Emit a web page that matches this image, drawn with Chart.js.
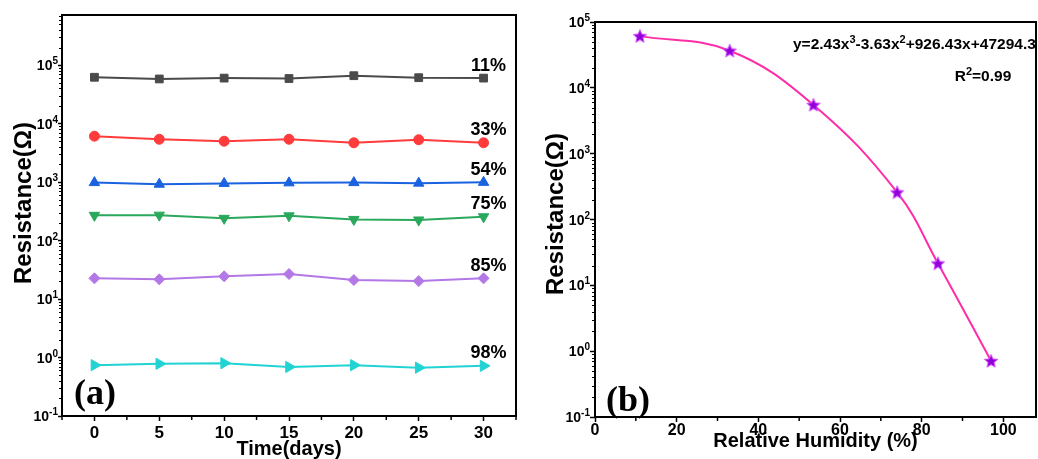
<!DOCTYPE html>
<html><head><meta charset="utf-8">
<script src="https://cdn.jsdelivr.net/npm/chart.js@4.4.1/dist/chart.umd.min.js"></script>
<style>
html,body{margin:0;padding:0;background:#fff;overflow:hidden}
#ca{position:absolute;left:0;top:0}
#cb{position:absolute;left:530px;top:0}
</style></head><body>
<canvas id="ca" width="530" height="459"></canvas>
<canvas id="cb" width="508" height="459"></canvas>
<script>
// ---------- data ----------
const days = [0, 5, 10, 15, 20, 25, 30];
const res11 = [6.2e4, 5.8e4, 6.0e4, 5.9e4, 6.6e4, 6.1e4, 6.0e4];
const res33 = [6.1e3, 5.4e3, 5.0e3, 5.4e3, 4.7e3, 5.3e3, 4.7e3];
const res54 = [980, 920, 950, 970, 980, 960, 990];
const res75 = [270, 272, 240, 265, 230, 225, 255];
const res85 = [22.6, 21.7, 24.5, 26.8, 21.1, 20.3, 22.6];
const res98 = [0.74, 0.78, 0.80, 0.69, 0.74, 0.67, 0.72];
const seriesLabels = ['11%', '33%', '54%', '75%', '85%', '98%'];
const rhValues = [11, 33, 53.5, 74, 84, 97];
const rhResistance = [6.1e4, 3.66e4, 5.5e3, 258, 21.5, 0.71];
const dayTicks = [0, 5, 10, 15, 20, 25, 30];
const rhTicks = [0, 20, 40, 60, 80, 100];
const decadeTicks = [0.1, 1, 10, 100, 1000, 10000, 100000];
const decadeExponents = ['-1', '0', '1', '2', '3', '4', '5'];
const decadeBase = '10';
const leftXTitle = 'Time(days)';
const rightXTitle = 'Relative Humidity (%)';
const yTitle = 'Resistance(\u03A9)';
const panelA = '(a)', panelB = '(b)';
// equation pieces: [text, isSuperscript]
const equationParts = [['y=2.43x', 0], ['3', 1], ['-3.63x', 0], ['2', 1], ['+926.43x+47294.3', 0]];
const r2Parts = [['R', 0], ['2', 1], ['=0.99', 0]];

// ---------- helpers ----------
const SANS = "'Liberation Sans', Arial, sans-serif";
const SERIF = "'Liberation Serif', 'Times New Roman', serif";
Chart.defaults.font.family = SANS;
Chart.defaults.color = '#000';

function drawRich(ctx, parts, x, y, align, baseSize, supSize, rise) {
  const fonts = [`bold ${baseSize}px ${SANS}`, `bold ${supSize}px ${SANS}`];
  let total = 0;
  const widths = parts.map(p => { ctx.font = fonts[p[1]]; const w = ctx.measureText(p[0]).width; total += w; return w; });
  let cx = align === 'right' ? x - total : align === 'center' ? x - total / 2 : x;
  ctx.textAlign = 'left';
  ctx.textBaseline = 'alphabetic';
  parts.forEach((p, i) => {
    ctx.font = fonts[p[1]];
    ctx.fillText(p[0], cx, p[1] ? y - rise : y);
    cx += widths[i];
  });
}

function starImage() {
  const c = document.createElement('canvas');
  c.width = 16; c.height = 16;
  const g = c.getContext('2d');
  g.beginPath();
  for (let i = 0; i < 10; i++) {
    const r = i % 2 === 0 ? 7 : 3.1;
    const a = -Math.PI / 2 + i * Math.PI / 5;
    const px = 8 + r * Math.cos(a), py = 8.5 + r * Math.sin(a);
    if (i === 0) g.moveTo(px, py); else g.lineTo(px, py);
  }
  g.closePath();
  g.fillStyle = '#9400d8';
  g.fill();
  g.lineWidth = 1;
  g.strokeStyle = '#d050ff';
  g.stroke();
  return c;
}

function minorLog(min, max) {
  const out = [];
  for (let e = Math.floor(Math.log10(min)); e <= Math.ceil(Math.log10(max)); e++) {
    for (let m = 2; m <= 9; m++) {
      const v = m * Math.pow(10, e);
      if (v > min && v < max) out.push(v);
    }
  }
  return out;
}

function framePlugin(opts) {
  return {
    id: 'frame' + opts.name,
    afterDraw(chart) {
      const ctx = chart.ctx, a = chart.chartArea;
      const xs = chart.scales.x, ys = chart.scales.y;
      ctx.save();
      ctx.strokeStyle = '#000';
      ctx.fillStyle = '#000';
      // minor ticks on y
      ctx.lineWidth = 1;
      minorLog(ys.min, ys.max).forEach(v => {
        const y = Math.round(ys.getPixelForValue(v)) + 0.5;
        ctx.beginPath(); ctx.moveTo(a.left, y); ctx.lineTo(a.left - 3, y); ctx.stroke();
      });
      // minor ticks on x
      ctx.lineWidth = 1.5;
      opts.minorX.forEach(v => {
        const x = xs.getPixelForValue(v);
        ctx.beginPath(); ctx.moveTo(x, a.bottom); ctx.lineTo(x, a.bottom + 4); ctx.stroke();
      });
      // frame
      ctx.lineWidth = 2;
      ctx.strokeRect(a.left, a.top, a.right - a.left, a.bottom - a.top);
      // y tick labels 10^n
      decadeTicks.forEach((v, i) => {
        const y = ys.getPixelForValue(v);
        drawRich(ctx, [[decadeBase, 0], [decadeExponents[i], 1]], a.left - opts.labelGap, y + 5, 'right', 14, 10, 6);
      });
      // y title
      ctx.save();
      ctx.translate(opts.yTitleX, opts.yTitleY);
      ctx.rotate(-Math.PI / 2);
      ctx.font = 'bold 24px ' + SANS;
      ctx.textAlign = 'center';
      ctx.textBaseline = 'middle';
      ctx.fillText(yTitle, 0, 0);
      ctx.restore();
      // panel letter
      ctx.font = 'bold 36px ' + SERIF;
      ctx.textAlign = 'left';
      ctx.textBaseline = 'alphabetic';
      ctx.fillText(opts.panel, opts.panelX, opts.panelY);
      if (opts.extra) opts.extra(chart, ctx);
      ctx.restore();
    }
  };
}

// ---------- left chart ----------
const leftSeries = [
  {data: res11, color: '#4a4a4a', style: 'rect', radius: 5.5, rot: 0},
  {data: res33, color: '#ff3b3b', style: 'circle', radius: 5, rot: 0},
  {data: res54, color: '#1a62e0', style: 'triangle', radius: 6, rot: 0},
  {data: res75, color: '#2aa85c', style: 'triangle', radius: 6, rot: 180},
  {data: res85, color: '#b377e6', style: 'rectRot', radius: 5.5, rot: 0},
  {data: res98, color: '#22d3d3', style: 'triangle', radius: 6.5, rot: 90}
];

new Chart(document.getElementById('ca'), {
  type: 'line',
  data: {
    datasets: leftSeries.map((s, i) => ({
      label: seriesLabels[i],
      data: days.map((d, j) => ({x: d, y: s.data[j]})),
      borderColor: s.color,
      backgroundColor: s.color,
      borderWidth: 2,
      pointStyle: s.style,
      pointRadius: s.radius,
      pointRotation: s.rot,
      pointBorderWidth: 1,
      tension: 0
    }))
  },
  options: {
    responsive: false,
    animation: false,
    devicePixelRatio: 1,
    layout: {autoPadding: false, padding: {top: 15, right: 14, left: 0, bottom: 0}},
    plugins: {legend: {display: false}, tooltip: {enabled: false}},
    scales: {
      x: {
        type: 'linear', min: -2.5, max: 32.5,
        afterBuildTicks: s => { s.ticks = dayTicks.map(v => ({value: v})); },
        afterFit: s => { s.height = 43; },
        ticks: {autoSkip: false, maxRotation: 0, padding: 2, color: '#000',
          font: {size: 17, weight: 'bold'}, callback: (v, i) => String(dayTicks[i])},
        grid: {drawOnChartArea: false, tickLength: 5, tickWidth: 1.5, tickColor: '#000'},
        border: {display: false},
        title: {display: true, text: leftXTitle, color: '#000',
          font: {size: 20, weight: 'bold', lineHeight: 1}, padding: {top: 0, bottom: 0}}
      },
      y: {
        type: 'logarithmic', min: 0.1, max: 7.2e5,
        afterBuildTicks: s => { s.ticks = decadeTicks.map(v => ({value: v, major: true})); },
        afterFit: s => { s.width = 62; },
        ticks: {display: false, autoSkip: false},
        grid: {drawOnChartArea: false, tickLength: 4, tickWidth: 1.5, tickColor: '#000'},
        border: {display: false}
      }
    }
  },
  plugins: [framePlugin({
    name: 'a', minorX: [-2.5, 2.5, 7.5, 12.5, 17.5, 22.5, 27.5, 32.5], labelGap: 4,
    yTitleX: 24, yTitleY: 203, panel: panelA, panelX: 74, panelY: 404,
    extra(chart, ctx) {
      const xs = chart.scales.x, ys = chart.scales.y;
      ctx.font = 'bold 18px ' + SANS;
      ctx.textAlign = 'center';
      ctx.textBaseline = 'middle';
      leftSeries.forEach((s, i) => {
        const n = s.data.length - 1;
        ctx.fillText(seriesLabels[i], xs.getPixelForValue(days[n]) + 5, ys.getPixelForValue(s.data[n]) - 12.5);
      });
    }
  })]
});

// ---------- right chart ----------
new Chart(document.getElementById('cb'), {
  type: 'line',
  data: {
    datasets: [{
      label: 'fit',
      data: rhValues.map((x, i) => ({x: x, y: rhResistance[i]})),
      borderColor: '#ff2ca8',
      borderWidth: 2,
      pointStyle: starImage(),
      pointRadius: 7,
      tension: 0.4
    }]
  },
  options: {
    responsive: false,
    animation: false,
    devicePixelRatio: 1,
    layout: {autoPadding: false, padding: {top: 22, right: 2, left: 0, bottom: 0}},
    plugins: {legend: {display: false}, tooltip: {enabled: false}},
    scales: {
      x: {
        type: 'linear', min: 0, max: 108,
        afterBuildTicks: s => { s.ticks = rhTicks.map(v => ({value: v})); },
        afterFit: s => { s.height = 42; },
        ticks: {autoSkip: false, maxRotation: 0, padding: -1, color: '#000',
          font: {size: 16, weight: 'bold'}, callback: (v, i) => String(rhTicks[i])},
        grid: {drawOnChartArea: false, tickLength: 5, tickWidth: 1.5, tickColor: '#000'},
        border: {display: false},
        title: {display: true, text: rightXTitle, color: '#000',
          font: {size: 20, weight: 'bold', lineHeight: 1}, padding: {top: 0, bottom: 8}}
      },
      y: {
        type: 'logarithmic', min: 0.1, max: 1e5,
        afterBuildTicks: s => { s.ticks = decadeTicks.map(v => ({value: v, major: true})); },
        afterFit: s => { s.width = 65; },
        ticks: {display: false, autoSkip: false},
        grid: {drawOnChartArea: false, tickLength: 5, tickWidth: 1.5, tickColor: '#000'},
        border: {display: false}
      }
    }
  },
  plugins: [framePlugin({
    name: 'b', minorX: [10, 30, 50, 70, 90], labelGap: 5,
    yTitleX: 26, yTitleY: 214, panel: panelB, panelX: 76, panelY: 411,
    extra(chart, ctx) {
      drawRich(ctx, equationParts, 263, 49, 'left', 15.5, 11, 6.5);
      drawRich(ctx, r2Parts, 453, 81, 'center', 15.5, 11, 6.5);
    }
  })]
});
</script>
</body></html>
